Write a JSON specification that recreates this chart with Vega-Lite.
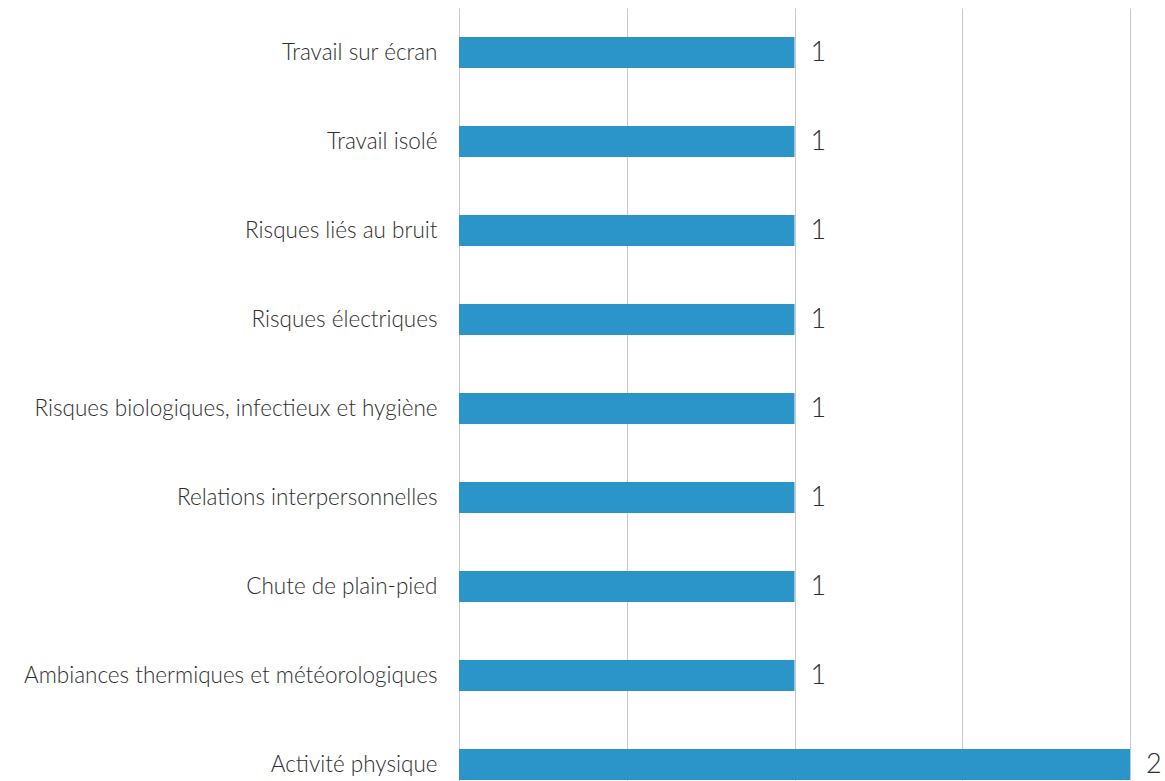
{
  "$schema": "https://vega.github.io/schema/vega-lite/v6.json",
  "autosize": {"type": "none"},
  "padding": {"left": 459, "top": 8, "right": 35, "bottom": 0},
  "width": 671,
  "height": 801,
  "background": "white",
  "config": {"view": {"stroke": null}, "font": "Lato"},
  "data": {"values": [
    {"risque": "Travail sur écran", "n": 1},
    {"risque": "Travail isolé", "n": 1},
    {"risque": "Risques liés au bruit", "n": 1},
    {"risque": "Risques électriques", "n": 1},
    {"risque": "Risques biologiques, infectieux et hygiène", "n": 1},
    {"risque": "Relations interpersonnelles", "n": 1},
    {"risque": "Chute de plain-pied", "n": 1},
    {"risque": "Ambiances thermiques et météorologiques", "n": 1},
    {"risque": "Activité physique", "n": 2}
  ]},
  "encoding": {
    "y": {"field": "risque", "type": "nominal", "sort": null,
      "scale": {"paddingInner": 0.65, "paddingOuter": 0.325},
      "axis": {"title": null, "domain": false, "ticks": false, "labelPadding": 22, "labelFontSize": 22.5, "labelFontWeight": 300, "labelColor": "#2e2e2e", "labelFont": "Lato", "labelLimit": 500}},
    "x": {"field": "n", "type": "quantitative", "scale": {"domain": [0, 2]},
      "axis": {"title": null, "labels": false, "ticks": false, "domain": false, "values": [0, 0.5, 1, 1.5, 2], "gridColor": "#c8c8c8", "gridWidth": 1}}
  },
  "layer": [
    {"mark": {"type": "bar", "color": "#2b95c9"}},
    {"mark": {"type": "text", "align": "left", "dx": 16, "fontSize": 27, "fontWeight": 300, "color": "#2e2e2e", "font": "Lato"},
     "encoding": {"text": {"field": "n", "type": "quantitative"}}}
  ]
}
